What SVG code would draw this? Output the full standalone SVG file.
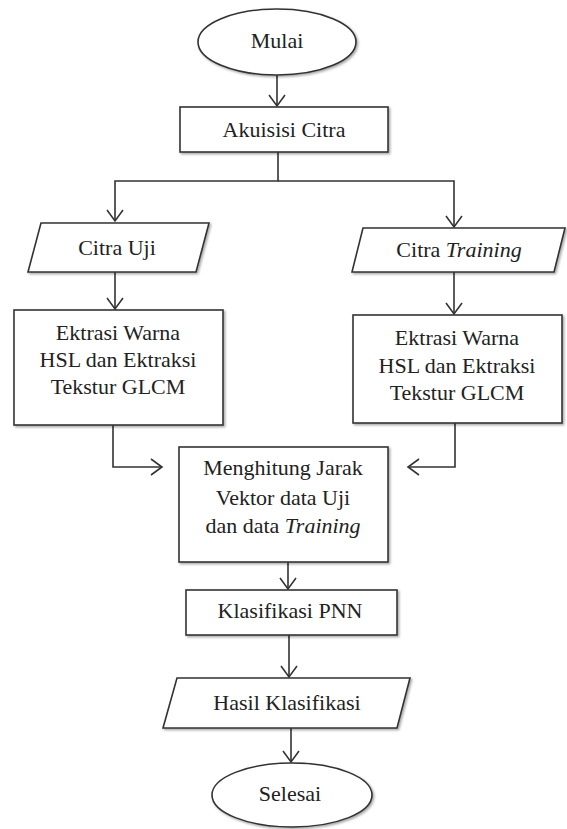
<svg xmlns="http://www.w3.org/2000/svg" width="567" height="829" viewBox="0 0 567 829" font-family="Liberation Serif, Times New Roman, serif">
  <style>
    .shape { fill: #ffffff; stroke: #333333; stroke-width: 1.6; filter: url(#shadow); }
    .link { fill: none; stroke: #333333; stroke-width: 1.6; marker-end: url(#arrow); }
    .label { font-family: Liberation Serif, Times New Roman, serif; font-size: 22px; fill: #222222; text-anchor: middle; }
    .it { font-style: italic; }
  </style>
  <defs>
    <filter id="shadow" x="-10%" y="-10%" width="130%" height="140%">
      <feDropShadow dx="1.5" dy="1.5" stdDeviation="0.8" flood-color="#000000" flood-opacity="0.35"/>
    </filter>
    <marker id="arrow" markerUnits="userSpaceOnUse" markerWidth="20" markerHeight="20" viewBox="-12 -10 14 20" refX="0" refY="0" orient="auto">
      <path d="M-11,-8 L0,0 L-11,8" fill="none" stroke="#333333" stroke-width="1.6"/>
    </marker>
  </defs>

  <!-- connectors -->
  <g id="connectors">
    <path class="link" d="M277,75 V106"/>
    <path class="link" d="M278,152 V181 H115 V221"/>
    <path class="link" d="M278,181 H454 V227"/>
    <path class="link" d="M115,272 V309"/>
    <path class="link" d="M454,272 V314"/>
    <path class="link" d="M113,425 V467 H162"/>
    <path class="link" d="M455,423 V467 H408"/>
    <path class="link" d="M288,562 V589"/>
    <path class="link" d="M289,635 V677"/>
    <path class="link" d="M291,728 V762"/>
  </g>

  <!-- start -->
  <g id="mulai">
    <ellipse class="shape" cx="277" cy="42" rx="79" ry="33"/>
    <text class="label" x="277" y="48">Mulai</text>
  </g>

  <g id="akuisisi">
    <rect class="shape" x="180" y="107" width="208" height="45"/>
    <text class="label" x="284" y="137">Akuisisi Citra</text>
  </g>

  <g id="citra-uji">
    <polygon class="shape" points="41,223 209,223 196,272 28,272"/>
    <text class="label" x="117" y="255">Citra Uji</text>
  </g>

  <g id="citra-training">
    <polygon class="shape" points="363,228 565,228 554,272 352,272"/>
    <text class="label" x="459" y="257">Citra <tspan class="it">Training</tspan></text>
  </g>

  <g id="ekstraksi-uji">
    <rect class="shape" x="14" y="310" width="209" height="115"/>
    <text class="label" x="118" y="340">Ektrasi Warna</text>
    <text class="label" x="118" y="367">HSL dan Ektraksi</text>
    <text class="label" x="118" y="394">Tekstur GLCM</text>
  </g>

  <g id="ekstraksi-training">
    <rect class="shape" x="353" y="315" width="209" height="108"/>
    <text class="label" x="457" y="345">Ektrasi Warna</text>
    <text class="label" x="457" y="373">HSL dan Ektraksi</text>
    <text class="label" x="457" y="400">Tekstur GLCM</text>
  </g>

  <g id="jarak">
    <rect class="shape" x="179" y="447" width="209" height="115"/>
    <text class="label" x="283" y="475">Menghitung Jarak</text>
    <text class="label" x="283" y="505">Vektor data Uji</text>
    <text class="label" x="283" y="533">dan data <tspan class="it">Training</tspan></text>
  </g>

  <g id="pnn">
    <rect class="shape" x="186" y="590" width="211" height="45"/>
    <text class="label" x="290" y="618">Klasifikasi PNN</text>
  </g>

  <g id="hasil">
    <polygon class="shape" points="177,678 410,678 397,728 163,728"/>
    <text class="label" x="287" y="710">Hasil Klasifikasi</text>
  </g>

  <!-- end -->
  <g id="selesai">
    <ellipse class="shape" cx="292" cy="795" rx="80" ry="32"/>
    <text class="label" x="290" y="801">Selesai</text>
  </g>
</svg>
